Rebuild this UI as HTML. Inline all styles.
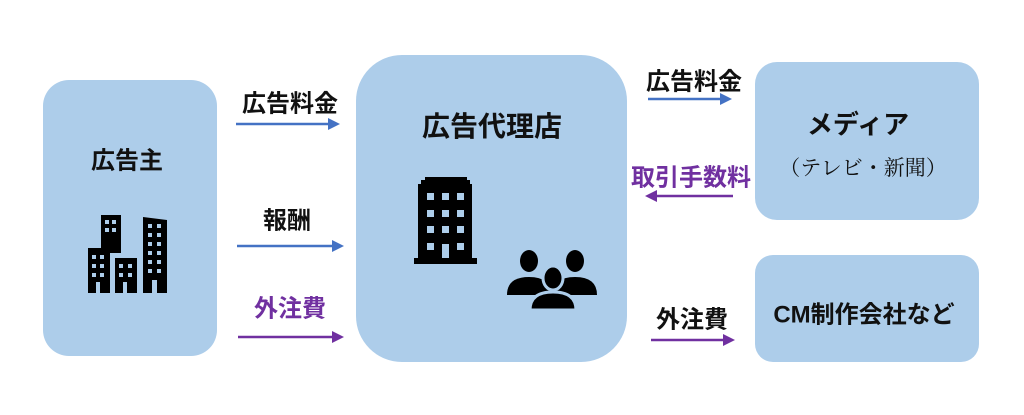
<!DOCTYPE html>
<html><head><meta charset="utf-8"><style>
body{margin:0;width:1024px;height:415px;background:#fff;position:relative;overflow:hidden;font-family:"Liberation Sans","Noto Sans CJK JP",sans-serif;}
.box{position:absolute;background:#adcdea;}
.t{position:absolute;font-weight:bold;white-space:nowrap;transform:translate(-50%,-50%);font-size:24px;color:#111;}
.p{color:#7030a0;}
svg{position:absolute;left:0;top:0}
</style></head><body>
<div class="box" style="left:43px;top:80px;width:174px;height:276px;border-radius:26px"></div>
<div class="box" style="left:356px;top:55px;width:271px;height:307px;border-radius:46px"></div>
<div class="box" style="left:755px;top:62px;width:224px;height:158px;border-radius:22px"></div>
<div class="box" style="left:755px;top:255px;width:224px;height:107px;border-radius:18px"></div>

<div class="t" style="left:127px;top:158px">広告主</div>
<div class="t" style="left:290px;top:101px">広告料金</div>
<div class="t" style="left:287px;top:218px">報酬</div>
<div class="t p" style="left:290px;top:306px">外注費</div>
<div class="t" style="left:492px;top:125px;font-size:28px">広告代理店</div>
<div class="t" style="left:694px;top:79px">広告料金</div>
<div class="t p" style="left:691px;top:175px">取引手数料</div>
<div class="t" style="left:692px;top:317px">外注費</div>
<div class="t" style="left:858px;top:123px;font-size:26px">メディア</div>
<div class="t" style="left:863px;top:167px;font-size:21px;font-weight:normal;font-family:'Liberation Serif','Noto Serif CJK SC',serif">（テレビ・新聞）</div>
<div class="t" style="left:864px;top:312px">CM制作会社など</div>

<svg width="1024" height="415">
<g stroke-width="2.5">
<line x1="236" y1="124" x2="330" y2="124" stroke="#4472c4"/><polygon points="340,124 328,118 328,130" fill="#4472c4"/>
<line x1="237" y1="246" x2="334" y2="246" stroke="#4472c4"/><polygon points="344,246 332,240 332,252" fill="#4472c4"/>
<line x1="238" y1="337" x2="334" y2="337" stroke="#7030a0"/><polygon points="344,337 332,331 332,343" fill="#7030a0"/>
<line x1="648" y1="99" x2="722" y2="99" stroke="#4472c4"/><polygon points="732,99 720,93 720,105" fill="#4472c4"/>
<line x1="655" y1="196" x2="733" y2="196" stroke="#7030a0"/><polygon points="645,196 657,190 657,202" fill="#7030a0"/>
<line x1="651" y1="340" x2="725" y2="340" stroke="#7030a0"/><polygon points="735,340 723,334 723,346" fill="#7030a0"/>
</g>
<g fill="#000">
<rect x="101" y="215" width="20" height="38"/>
<rect x="88" y="248" width="22" height="45"/>
<rect x="115" y="258" width="22" height="35"/>
<path d="M143 217 L167 220 L167 293 L143 293Z"/>
</g>
<g fill="#adcdea">
<rect x="105" y="220" width="4" height="4"/><rect x="112" y="220" width="4" height="4"/>
<rect x="105" y="228" width="4" height="4"/><rect x="112" y="228" width="4" height="4"/>
<rect x="92" y="255" width="4" height="4"/><rect x="100" y="255" width="4" height="4"/>
<rect x="92" y="264" width="4" height="4"/><rect x="100" y="264" width="4" height="4"/>
<rect x="92" y="273" width="4" height="4"/><rect x="100" y="273" width="4" height="4"/>
<rect x="96" y="282" width="4" height="11"/>
<rect x="119" y="264" width="4" height="4"/><rect x="128" y="264" width="4" height="4"/>
<rect x="119" y="273" width="4" height="4"/><rect x="128" y="273" width="4" height="4"/>
<rect x="123" y="282" width="4" height="11"/>
<rect x="148" y="224" width="4" height="4"/><rect x="157" y="224" width="4" height="4"/>
<rect x="148" y="233" width="4" height="4"/><rect x="157" y="233" width="4" height="4"/>
<rect x="148" y="242" width="4" height="4"/><rect x="157" y="242" width="4" height="4"/>
<rect x="148" y="251" width="4" height="4"/><rect x="157" y="251" width="4" height="4"/>
<rect x="148" y="260" width="4" height="4"/><rect x="157" y="260" width="4" height="4"/>
<rect x="148" y="269" width="4" height="4"/><rect x="157" y="269" width="4" height="4"/>
<rect x="152" y="280" width="5" height="13"/>
</g>
<g fill="#000">
<path d="M425 177 L467 177 L467 180 L470 180 L470 184 L472 184 L472 258 L477 258 L477 264 L414 264 L414 258 L418 258 L418 184 L421 184 L421 180 L425 180Z"/>
</g>
<g fill="#adcdea">
<rect x="427" y="193" width="7" height="7"/><rect x="442" y="193" width="7" height="7"/><rect x="457" y="193" width="7" height="7"/>
<rect x="427" y="210" width="7" height="7"/><rect x="442" y="210" width="7" height="7"/><rect x="457" y="210" width="7" height="7"/>
<rect x="427" y="226" width="7" height="7"/><rect x="442" y="226" width="7" height="7"/><rect x="457" y="226" width="7" height="7"/>
<rect x="427" y="243" width="7" height="7"/><rect x="442" y="244" width="7" height="14"/><rect x="457" y="243" width="7" height="7"/>
</g>
<g fill="#000">
<ellipse cx="529" cy="261" rx="9" ry="11"/>
<path d="M507 295 Q507 277 529 277 Q551 277 551 295Z"/>
<ellipse cx="575" cy="261" rx="9" ry="11"/>
<path d="M553 295 Q553 277 575 277 Q597 277 597 295Z"/>
</g>
<g fill="#000" stroke="#adcdea" stroke-width="3">
<ellipse cx="553" cy="278" rx="10" ry="12"/>
<path d="M530 310 Q530 292 553 292 Q576 292 576 310Z"/>
</g>
</svg>
</body></html>
